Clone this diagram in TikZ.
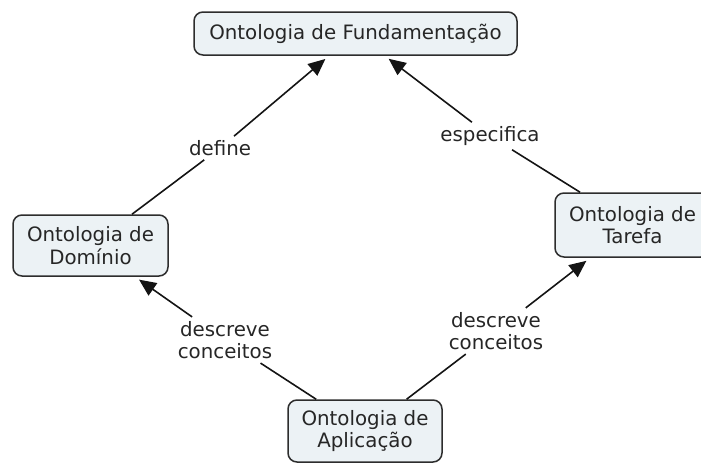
\documentclass[tikz,border=0pt]{standalone}
\usepackage{fontspec}
\setmainfont{DejaVu Sans}
\usetikzlibrary{arrows.meta}
\definecolor{boxfill}{RGB}{236,242,245}
\definecolor{boxline}{RGB}{45,45,45}
\definecolor{edgecol}{RGB}{20,20,20}
\begin{document}
\begin{tikzpicture}[x=1pt,y=-1pt,
  concept/.style={draw=boxline, line width=1.5pt, fill=boxfill, rounded corners=9pt,
    align=center, inner sep=0pt, font=\fontsize{19.8}{22.5}\selectfont, text=black!85},
  linkph/.style={align=center, inner sep=4pt, font=\fontsize{19.8}{22.5}\selectfont, text=black!85},
  conn/.style={draw=edgecol, line width=1.6pt},
  arr/.style={conn, -{Triangle[length=17pt,width=15pt]}, shorten >=5pt}
]
\useasboundingbox (0,0) rectangle (701,463);
\node[concept, minimum width=323pt, minimum height=43pt] (top) at (355.5,33.5) {Ontologia de Fundamentação};
\node[concept, minimum width=155pt, minimum height=61pt] (dom) at (90.5,245.5) {Ontologia de\\Domínio};
\node[concept, minimum width=155pt, minimum height=64pt] (tar) at (632.5,225) {Ontologia de\\Tarefa};
\node[concept, minimum width=154pt, minimum height=62pt] (app) at (365,431) {Ontologia de\\Aplicação};

\node[linkph] (l1) at (220,148) {define};
\node[linkph] (l2) at (490,136) {especifica};
\node[linkph] (l3) at (225,340) {descreve\\conceitos};
\node[linkph] (l4) at (496,331) {descreve\\conceitos};

\draw[conn] (dom) -- (l1);
\draw[arr] (l1) -- (top);
\draw[conn] (tar) -- (l2);
\draw[arr] (l2) -- (top);
\draw[conn] (app) -- (l3);
\draw[arr] (l3) -- (dom);
\draw[conn] (app) -- (l4);
\draw[arr] (l4) -- (tar);
\end{tikzpicture}
\end{document}
